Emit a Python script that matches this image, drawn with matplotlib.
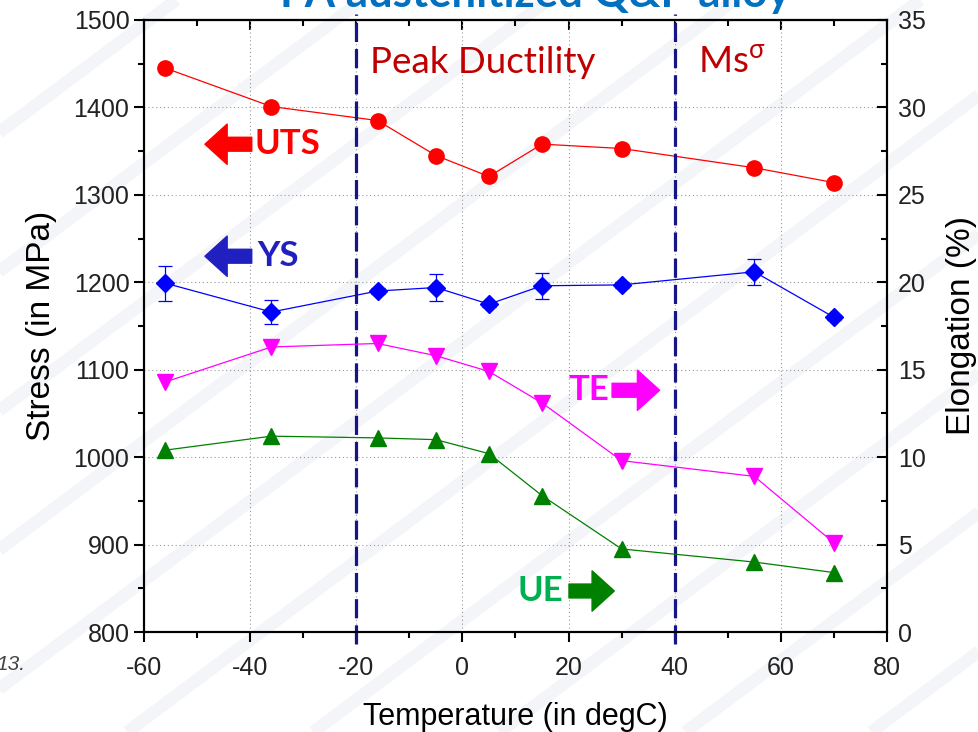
import numpy as np
import matplotlib
matplotlib.use('Agg')
import matplotlib.pyplot as plt
from matplotlib.ticker import MultipleLocator

# Data
temps = [-56, -36, -16, -5, 5, 15, 30, 55, 70]
uts = [1445, 1401, 1385, 1345, 1321, 1358, 1353, 1331, 1314]
ys = [1199, 1166, 1190, 1194, 1175, 1196, 1197, 1212, 1160]
ys_err = [20, 14, 3, 15, 3, 15, 3, 15, 3]
te = [14.3, 16.3, 16.5, 15.8, 14.9, 13.1, 9.8, 8.9, 5.1]
ue = [10.4, 11.2, 11.1, 11.0, 10.2, 7.8, 4.75, 4.0, 3.4]
boundaries = [-20, 40]

plt.rcParams['font.family'] = ['Liberation Sans', 'DejaVu Sans']
plt.rcParams['axes.unicode_minus'] = False
plt.rcParams['mathtext.fontset'] = 'custom'
plt.rcParams['mathtext.rm'] = 'Lato'

fig = plt.figure(figsize=(9.79, 7.32), dpi=100)
ax = fig.add_axes([0.1471, 0.1366, 0.7589, 0.8361])
ax.set_facecolor('none')

# faint diagonal watermark stripes in the background
for off in np.arange(-1.2, 1.2, 0.19):
    fig.add_artist(plt.Line2D([off, off + 1.0], [0, 1.0], transform=fig.transFigure,
                              color='#f4f5f8', lw=9, zorder=-10, solid_capstyle='butt'))

ax2 = ax.twinx()

# stress curves (left axis)
ax.plot(temps, uts, '-o', color='#ff0000', lw=0.9, ms=11, zorder=5)
ax.errorbar(temps, ys, yerr=ys_err, fmt='-D', color='#0000ff', lw=0.9, ms=9.5,
            capsize=5, elinewidth=0.9, capthick=0.9, zorder=5)

# elongation curves (right axis)
ax2.plot(temps, te, '-v', color='#ff00ff', lw=0.9, ms=11.5, zorder=5)
ax2.plot(temps, ue, '-^', color='#008000', lw=0.9, ms=11.5, zorder=5)

ax.set_xlim(-60, 80)
ax.set_ylim(800, 1500)
ax2.set_ylim(0, 35)

ax.xaxis.set_major_locator(MultipleLocator(20))
ax.xaxis.set_minor_locator(MultipleLocator(10))
ax.yaxis.set_major_locator(MultipleLocator(100))
ax.yaxis.set_minor_locator(MultipleLocator(50))
ax2.yaxis.set_major_locator(MultipleLocator(5))
ax2.yaxis.set_minor_locator(MultipleLocator(2.5))

ax.grid(True, which='major', linestyle=(0, (1, 2.5)), color='#9a9a9a', lw=0.8)
ax.set_axisbelow(True)

ax.tick_params(axis='both', which='major', direction='out', length=7, width=1.5,
               labelsize=18, labelcolor='#222222')
ax.tick_params(axis='x', which='major', pad=10)
ax.tick_params(axis='both', which='minor', direction='out', length=4, width=1.5)
ax2.tick_params(axis='y', which='major', direction='in', length=7, width=1.5,
                labelsize=18, labelcolor='#222222', pad=8)
ax2.tick_params(axis='y', which='minor', direction='in', length=4, width=1.5)

top = ax.secondary_xaxis('top')
top.xaxis.set_major_locator(MultipleLocator(20))
top.xaxis.set_minor_locator(MultipleLocator(10))
top.tick_params(which='major', direction='in', length=7, width=1.5, labeltop=False)
top.tick_params(which='minor', direction='in', length=4, width=1.5)

for a in (ax, ax2):
    for s in a.spines.values():
        s.set_linewidth(1.5)
top.spines['top'].set_linewidth(1.5)

ax.set_xlabel('Temperature (in degC)', fontsize=22, labelpad=16)
ax.set_ylabel('Stress (in MPa)', fontsize=24, labelpad=12)
ax2.set_ylabel('Elongation (%)', fontsize=24, labelpad=14)

# regime boundaries
for b in boundaries:
    ax.plot([b, b], [-0.02, 1.01], color='#151585', lw=2.3, ls=(0, (6, 2.2)),
            transform=ax.get_xaxis_transform(), clip_on=False, zorder=6)

ax.text(0.304, 0.93, 'Peak Ductility', transform=ax.transAxes, fontsize=26.5,
        family='Lato', color='#c00000', va='center', ha='left')
ax.text(0.746, 0.93, r'Ms$^{\mathrm{\sigma}}$', transform=ax.transAxes, fontsize=26.5,
        family='Lato', color='#c00000', va='center', ha='left')

# arrow labels
def arrow_label(text, tcol, acol, tx, ty, tail, tip):
    ax.text(tx, ty, text, transform=ax.transAxes, fontsize=25, family='Lato',
            fontweight='bold', color=tcol, va='center', ha='left')
    ax.annotate('', xy=(tip, ty), xytext=(tail, ty), xycoords='axes fraction',
                textcoords='axes fraction',
                arrowprops=dict(arrowstyle='simple,head_length=0.8,head_width=1.45,tail_width=0.5',
                                color=acol, shrinkA=0, shrinkB=0, mutation_scale=20))

arrow_label('UTS', '#ff0000', '#ff0000', 0.149, 0.797, 0.145, 0.082)
arrow_label('YS', '#2020c0', '#2020c0', 0.152, 0.614, 0.145, 0.082)
arrow_label('TE', '#ff00ff', '#ff00ff', 0.572, 0.395, 0.630, 0.694)
arrow_label('UE', '#00b050', '#008000', 0.503, 0.067, 0.572, 0.633)

fig.text(0.5465, 1 - 7 / 732, 'FA austenitized Q&P alloy', fontsize=31.5, family='Lato',
         fontweight='bold', color='#0070c0', ha='center', va='baseline')
fig.text(-0.004, 1 - 665 / 732, '13.', fontsize=15, style='italic', color='#444444',
         va='center', ha='left')

fig.savefig('out.png', dpi=100)
